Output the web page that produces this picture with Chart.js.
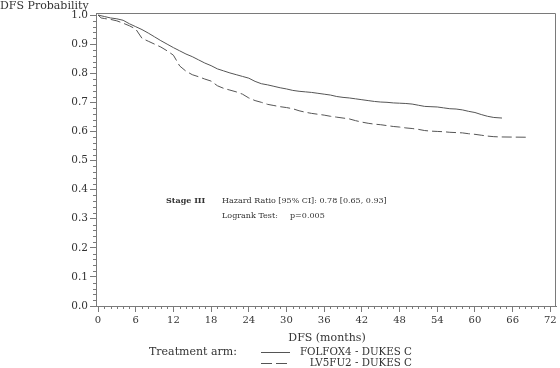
<!DOCTYPE html>
<html>
<head>
<meta charset="utf-8">
<script src="https://cdn.jsdelivr.net/npm/chart.js@4.4.1/dist/chart.umd.min.js"></script>
<style>
  html, body { margin: 0; padding: 0; background: #fff; }
  #wrap { position: relative; width: 560px; height: 368px; }
</style>
</head>
<body>
<div id="wrap"><canvas id="chart"></canvas></div>
<script>
// valeurs (mois, survie sans maladie)
const folfoxMonths = [0, 1, 2, 3, 4, 5, 6, 7, 8, 9, 10, 11, 12, 13, 14, 15, 16, 17, 18, 19, 20, 21, 22, 23, 24, 25, 26, 27, 28, 29, 30, 31, 32, 33, 34, 35, 36, 37, 38, 39, 40, 41, 42, 43, 44, 45, 46, 47, 48, 49, 50, 51, 52, 53, 54, 55, 56, 57, 58, 59, 60, 61, 62, 63, 64.3];
const folfoxSurv = [1.0, 0.995, 0.99, 0.987, 0.982, 0.97, 0.96, 0.95, 0.938, 0.925, 0.912, 0.9, 0.888, 0.877, 0.866, 0.857, 0.846, 0.835, 0.826, 0.815, 0.808, 0.801, 0.795, 0.789, 0.783, 0.772, 0.764, 0.76, 0.755, 0.75, 0.746, 0.741, 0.738, 0.736, 0.734, 0.731, 0.728, 0.725, 0.72, 0.717, 0.715, 0.712, 0.709, 0.706, 0.703, 0.701, 0.7, 0.698, 0.697, 0.696, 0.694, 0.69, 0.686, 0.685, 0.684, 0.681, 0.678, 0.677, 0.674, 0.669, 0.665, 0.658, 0.652, 0.648, 0.646];

const lv5fu2Months = [0, 0.5, 1, 2, 3, 4, 5, 6, 7, 8, 9, 10, 11, 12, 13, 14, 15, 16, 17, 18, 19, 20, 21, 22, 23, 24, 25, 26, 27, 28, 29, 30, 31, 32, 33, 34, 35, 36, 37, 38, 39, 40, 41, 42, 43, 44, 45, 46, 47, 48, 49, 50, 51, 52, 53, 54, 55, 56, 57, 58, 59, 60, 61, 62, 63, 64, 68.3];
const lv5fu2Surv = [1.0, 0.99, 0.988, 0.985, 0.98, 0.972, 0.963, 0.952, 0.92, 0.91, 0.9, 0.89, 0.877, 0.862, 0.825, 0.807, 0.795, 0.788, 0.78, 0.773, 0.757, 0.748, 0.742, 0.736, 0.728, 0.715, 0.706, 0.7, 0.693, 0.689, 0.685, 0.682, 0.678, 0.671, 0.666, 0.662, 0.659, 0.656, 0.652, 0.649, 0.646, 0.643, 0.637, 0.632, 0.628, 0.625, 0.623, 0.62, 0.617, 0.615, 0.612, 0.61, 0.607, 0.603, 0.601, 0.6, 0.599, 0.597, 0.596, 0.595, 0.592, 0.59, 0.587, 0.584, 0.582, 0.581, 0.58];

const xTicks = [0, 6, 12, 18, 24, 30, 36, 42, 48, 54, 60, 66, 72];
const yTicks = [0, 0.1, 0.2, 0.3, 0.4, 0.5, 0.6, 0.7, 0.8, 0.9, 1.0];
const seriesNames = ["FOLFOX4 - DUKES C", "LV5FU2 - DUKES C"];

const FONT = "'DejaVu Serif', serif";
const TXT = "#333";
const AXIS = "#7a7a7a";
const LINE = "#555";

function toPoints(xs, ys) {
  return xs.map((x, i) => ({ x: x, y: ys[i] }));
}

// cadre, petites graduations et textes
const extras = {
  id: "extras",
  afterDraw(chart) {
    const ctx = chart.ctx;
    const a = chart.chartArea;
    const xs = chart.scales.x;
    const ys = chart.scales.y;
    ctx.save();
    ctx.strokeStyle = AXIS;
    ctx.lineWidth = 1;
    ctx.beginPath();
    ctx.moveTo(a.left, a.top + 0.5);
    ctx.lineTo(a.right - 0.5, a.top + 0.5);
    ctx.lineTo(a.right - 0.5, a.bottom);
    ctx.stroke();

    // graduations mineures
    ctx.beginPath();
    for (let m = 1; m < 72; m++) {
      if (m % 6 === 0) continue;
      const px = Math.round(xs.getPixelForValue(m)) + 0.5;
      ctx.moveTo(px, a.bottom);
      ctx.lineTo(px, a.bottom + 3);
    }
    for (let k = 1; k < 50; k++) {
      if (k % 5 === 0) continue;
      const py = Math.round(ys.getPixelForValue(k * 0.02)) + 0.5;
      ctx.moveTo(a.left, py);
      ctx.lineTo(a.left - 3, py);
    }
    ctx.stroke();

    ctx.fillStyle = TXT;
    ctx.textBaseline = "middle";
    ctx.font = "11px " + FONT;
    ctx.textAlign = "left";
    ctx.fillText("DFS Probability", 0, 6);
    ctx.textAlign = "center";
    ctx.fillText("DFS (months)", 327, 338);

    // annotation
    ctx.textAlign = "left";
    ctx.font = "bold 8px " + FONT;
    ctx.fillText("Stage III", 166, 201);
    ctx.font = "8px " + FONT;
    ctx.fillText("Hazard Ratio [95% CI]: 0.78 [0.65, 0.93]", 222, 201);
    ctx.fillText("Logrank Test:", 222, 216);
    ctx.fillText("p=0.005", 290, 216);

    // légende
    ctx.font = "11px " + FONT;
    ctx.fillText("Treatment arm:", 149, 352);
    ctx.font = "10.3px " + FONT;
    ctx.textAlign = "right";
    ctx.fillText(seriesNames[0], 412, 352);
    ctx.fillText(seriesNames[1], 412, 363);
    ctx.strokeStyle = LINE;
    ctx.beginPath();
    ctx.moveTo(261, 352.5);
    ctx.lineTo(290, 352.5);
    ctx.stroke();
    ctx.setLineDash([11, 4]);
    ctx.beginPath();
    ctx.moveTo(261, 363.5);
    ctx.lineTo(290, 363.5);
    ctx.stroke();
    ctx.restore();
  }
};

new Chart(document.getElementById("chart"), {
  type: "line",
  data: {
    datasets: [
      {
        label: seriesNames[0],
        data: toPoints(folfoxMonths, folfoxSurv),
        borderColor: LINE,
        borderWidth: 1,
        tension: 0,
        pointRadius: 0,
        fill: false
      },
      {
        label: seriesNames[1],
        data: toPoints(lv5fu2Months, lv5fu2Surv),
        borderColor: LINE,
        borderWidth: 1,
        borderDash: [10, 4],
        tension: 0,
        pointRadius: 0,
        fill: false
      }
    ]
  },
  options: {
    responsive: true,
    maintainAspectRatio: false,
    animation: false,
    devicePixelRatio: 1,
    layout: { padding: { left: 0, right: 4, top: 13, bottom: 0 } },
    plugins: {
      legend: { display: false },
      tooltip: { enabled: false }
    },
    scales: {
      x: {
        type: "linear",
        min: -0.32,
        max: 72.9,
        afterBuildTicks(axis) {
          axis.ticks = xTicks.map((v) => ({ value: v }));
        },
        afterFit(axis) {
          axis.height = 62;
        },
        ticks: {
          color: TXT,
          font: { family: FONT, size: 10 },
          padding: 2,
          maxRotation: 0,
          autoSkip: false
        },
        grid: { drawOnChartArea: false, tickLength: 6, color: AXIS },
        border: { color: AXIS }
      },
      y: {
        min: 0,
        max: 1.007,
        afterBuildTicks(axis) {
          axis.ticks = yTicks.map((v) => ({ value: v }));
        },
        afterFit(axis) {
          axis.width = 96;
        },
        ticks: {
          color: TXT,
          font: { family: FONT, size: 10.5 },
          padding: 2,
          callback: (v) => v.toFixed(1)
        },
        grid: { drawOnChartArea: false, tickLength: 6, color: AXIS },
        border: { color: AXIS }
      }
    }
  },
  plugins: [extras]
});
</script>
</body>
</html>
